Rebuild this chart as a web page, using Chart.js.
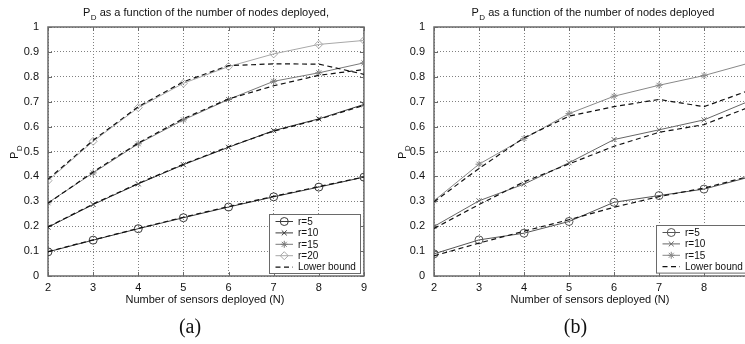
<!DOCTYPE html>
<html>
<head>
<meta charset="utf-8">
<script src="https://cdn.jsdelivr.net/npm/chart.js@4/dist/chart.umd.min.js"></script>
<style>
  html, body { margin: 0; padding: 0; background: #fff; }
  #wrap { position: relative; width: 745px; height: 344px; overflow: hidden; }
  canvas { position: absolute; top: 0; }
  #chartA { left: 0; }
  #chartB { left: 372px; }
</style>
</head>
<body>
<div id="wrap">
  <canvas id="chartA" width="372" height="344"></canvas>
  <canvas id="chartB" width="386" height="344"></canvas>
</div>
<script>
// number of sensors deployed (N)
const nodes = [2, 3, 4, 5, 6, 7, 8, 9];
const yTicks = [0, 0.1, 0.2, 0.3, 0.4, 0.5, 0.6, 0.7, 0.8, 0.9, 1];

// (a) detection probability, simulated and lower bound
const a_r5     = [0.097, 0.144, 0.190, 0.234, 0.277, 0.318, 0.357, 0.397];
const a_r5_lb  = [0.098, 0.145, 0.191, 0.236, 0.279, 0.320, 0.359, 0.398];
const a_r10    = [0.196, 0.287, 0.370, 0.447, 0.517, 0.584, 0.631, 0.689];
const a_r10_lb = [0.197, 0.289, 0.372, 0.449, 0.519, 0.582, 0.629, 0.686];
const a_r15    = [0.294, 0.414, 0.531, 0.627, 0.709, 0.782, 0.816, 0.856];
const a_r15_lb = [0.292, 0.418, 0.534, 0.632, 0.711, 0.764, 0.806, 0.829];
const a_r20    = [0.383, 0.541, 0.676, 0.774, 0.841, 0.892, 0.930, 0.946];
const a_r20_lb = [0.388, 0.545, 0.680, 0.780, 0.845, 0.852, 0.851, 0.810];

// (b)
const b_r5     = [0.089, 0.145, 0.172, 0.219, 0.296, 0.323, 0.349, 0.397];
const b_r5_lb  = [0.081, 0.132, 0.180, 0.226, 0.276, 0.319, 0.353, 0.400];
const b_r10    = [0.199, 0.302, 0.369, 0.455, 0.548, 0.587, 0.627, 0.702];
const b_r10_lb = [0.191, 0.287, 0.378, 0.450, 0.521, 0.577, 0.608, 0.678];
const b_r15    = [0.302, 0.449, 0.552, 0.652, 0.722, 0.766, 0.805, 0.855];
const b_r15_lb = [0.298, 0.432, 0.555, 0.642, 0.680, 0.709, 0.680, 0.745];

const FONT = '"Liberation Sans", Arial, Helvetica, sans-serif';

function pts(vals) {
  return nodes.map((n, i) => ({ x: n, y: vals[i] }));
}

function series(label, vals, color, style, radius) {
  return {
    label: label,
    data: pts(vals),
    borderColor: color,
    borderWidth: 1,
    pointStyle: style,
    pointRadius: radius,
    pointBorderColor: color,
    pointBackgroundColor: 'rgba(0,0,0,0)',
    pointBorderWidth: 1,
    order: 1
  };
}

function bound(vals) {
  return {
    label: 'Lower bound',
    data: pts(vals),
    borderColor: '#111',
    borderWidth: 1.2,
    borderDash: [5, 3.5],
    pointRadius: 0,
    order: 0
  };
}

// "P" with a subscript D; returns the width used
function drawPD(ctx, x, y, size) {
  ctx.font = size + 'px ' + FONT;
  ctx.fillText('P', x, y);
  const w = ctx.measureText('P').width;
  ctx.font = Math.round(size * 0.72) + 'px ' + FONT;
  ctx.fillText('D', x + w + 0.5, y + size * 0.38);
  return w + 0.5 + ctx.measureText('D').width;
}

const decor = {
  id: 'decor',
  beforeDatasetsDraw(chart, args, o) {
    const { ctx, chartArea: a, scales } = chart;
    ctx.save();
    ctx.strokeStyle = '#6a6a6a';
    ctx.lineWidth = 1;
    // inward tick marks
    ctx.beginPath();
    nodes.forEach(n => {
      const x = Math.round(scales.x.getPixelForValue(n)) + 0.5;
      ctx.moveTo(x, a.bottom); ctx.lineTo(x, a.bottom - 4);
      ctx.moveTo(x, a.top); ctx.lineTo(x, a.top + 4);
    });
    yTicks.forEach(v => {
      const y = Math.round(scales.y.getPixelForValue(v)) + 0.5;
      ctx.moveTo(a.left, y); ctx.lineTo(a.left + 4, y);
      ctx.moveTo(a.right, y); ctx.lineTo(a.right - 4, y);
    });
    ctx.stroke();
    ctx.lineWidth = 1.5;
    ctx.strokeRect(a.left, a.top, a.right - a.left, a.bottom - a.top);
    ctx.restore();
  },
  afterDraw(chart, args, o) {
    const { ctx, chartArea: a } = chart;
    ctx.save();
    ctx.fillStyle = '#111';
    ctx.textBaseline = 'alphabetic';
    ctx.textAlign = 'left';

    // title
    ctx.font = '11px ' + FONT;
    const rest = ' as a function of the number of nodes deployed' + o.titleTail;
    const restW = ctx.measureText(rest).width;
    const pW = ctx.measureText('P').width;
    ctx.font = '8px ' + FONT;
    const dW = ctx.measureText('D').width;
    const total = pW + 0.5 + dW + restW;
    const x0 = o.titleX - total / 2;
    const used = drawPD(ctx, x0, 16, 11);
    ctx.font = '11px ' + FONT;
    ctx.fillText(rest, x0 + used, 16);

    // x axis title
    ctx.textAlign = 'center';
    ctx.textBaseline = 'middle';
    ctx.fillText('Number of sensors deployed (N)', o.xLabelX, 300);

    // panel tag
    ctx.font = '20px "Liberation Serif", "DejaVu Serif", serif';
    ctx.fillText(o.tag, o.tagX, 328);

    // y axis title, rotated
    ctx.save();
    ctx.translate(o.yLabelX, 152);
    ctx.rotate(-Math.PI / 2);
    ctx.textAlign = 'left';
    ctx.textBaseline = 'alphabetic';
    drawPD(ctx, -7, 0, 11);
    ctx.restore();

    // legend box, one entry per label
    const seen = new Set();
    const items = chart.data.datasets.filter(d => {
      if (seen.has(d.label)) return false;
      seen.add(d.label);
      return true;
    });
    const row = 11.4;
    const boxW = 91;
    const boxH = 7 + (items.length - 1) * row + 6.4;
    const bx = Math.round(a.right - o.legendRight - boxW) + 0.5;
    const by = Math.round(a.bottom - o.legendBottom - boxH) + 0.5;
    ctx.fillStyle = '#fff';
    ctx.fillRect(bx, by, boxW, boxH);
    ctx.strokeStyle = '#6a6a6a';
    ctx.lineWidth = 1;
    ctx.strokeRect(bx, by, boxW, boxH);
    ctx.font = '10px ' + FONT;
    ctx.textAlign = 'left';
    ctx.textBaseline = 'middle';
    items.forEach((d, i) => {
      const y = by + 7 + i * row;
      const lx0 = bx + 6, lx1 = bx + 23.5;
      ctx.strokeStyle = d.borderColor;
      ctx.lineWidth = d.borderWidth;
      ctx.setLineDash(d.borderDash || []);
      ctx.beginPath();
      ctx.moveTo(lx0, y); ctx.lineTo(lx1, y);
      ctx.stroke();
      ctx.setLineDash([]);
      if (d.pointRadius) {
        ctx.fillStyle = 'rgba(0,0,0,0)';
        ctx.lineWidth = 1;
        Chart.helpers.drawPoint(ctx, {
          pointStyle: d.pointStyle, radius: d.pointRadius, borderWidth: 1, rotation: 0
        }, (lx0 + lx1) / 2, y);
      }
      ctx.fillStyle = '#111';
      ctx.fillText(d.label, bx + 28.5, y + 0.5);
    });
    ctx.restore();
  }
};

function makeChart(id, datasets, yAxisW, padRight, deco) {
  return new Chart(document.getElementById(id), {
    type: 'line',
    data: { datasets: datasets },
    options: {
      responsive: false,
      animation: false,
      layout: { padding: { top: 27, right: padRight, left: 0, bottom: 0 } },
      elements: { line: { tension: 0 } },
      scales: {
        x: {
          type: 'linear',
          min: 2, max: 9,
          afterFit: s => { s.height = 68; },
          afterBuildTicks: s => { s.ticks = nodes.map(v => ({ value: v })); },
          grid: { color: '#808080', lineWidth: 1, drawTicks: false },
          border: { display: false, dash: [1, 2] },
          ticks: { padding: 5, color: '#111', font: { family: FONT, size: 11 }, maxRotation: 0 }
        },
        y: {
          min: 0, max: 1,
          afterFit: s => { s.width = yAxisW; },
          afterBuildTicks: s => { s.ticks = yTicks.map(v => ({ value: v })); },
          grid: { color: '#808080', lineWidth: 1, drawTicks: false },
          border: { display: false, dash: [1, 2] },
          ticks: {
            padding: 9, color: '#111', font: { family: FONT, size: 11 },
            callback: v => String(Math.round(v * 10) / 10)
          }
        }
      },
      plugins: {
        legend: { display: false },
        tooltip: { enabled: false },
        decor: deco
      }
    },
    plugins: [decor]
  });
}

makeChart('chartA', [
  series('r=5', a_r5, '#3a3a3a', 'circle', 4),
  series('r=10', a_r10, '#3a3a3a', 'crossRot', 3.5),
  series('r=15', a_r15, '#7a7a7a', 'star', 3.5),
  series('r=20', a_r20, '#a8a8a8', 'rectRot', 4),
  bound(a_r5_lb), bound(a_r10_lb), bound(a_r15_lb), bound(a_r20_lb)
], 48, 8, {
  titleTail: ',', titleX: 206, xLabelX: 205, tag: '(a)', tagX: 190, yLabelX: 18,
  legendRight: 4, legendBottom: 3
});

makeChart('chartB', [
  series('r=5', b_r5, '#555', 'circle', 4),
  series('r=10', b_r10, '#666', 'crossRot', 3.5),
  series('r=15', b_r15, '#888', 'star', 3.5),
  bound(b_r5_lb), bound(b_r10_lb), bound(b_r15_lb)
], 62, 9, {
  titleTail: '', titleX: 221, xLabelX: 218, tag: '(b)', tagX: 203.5, yLabelX: 34,
  legendRight: 2, legendBottom: 3
});
</script>
</body>
</html>
